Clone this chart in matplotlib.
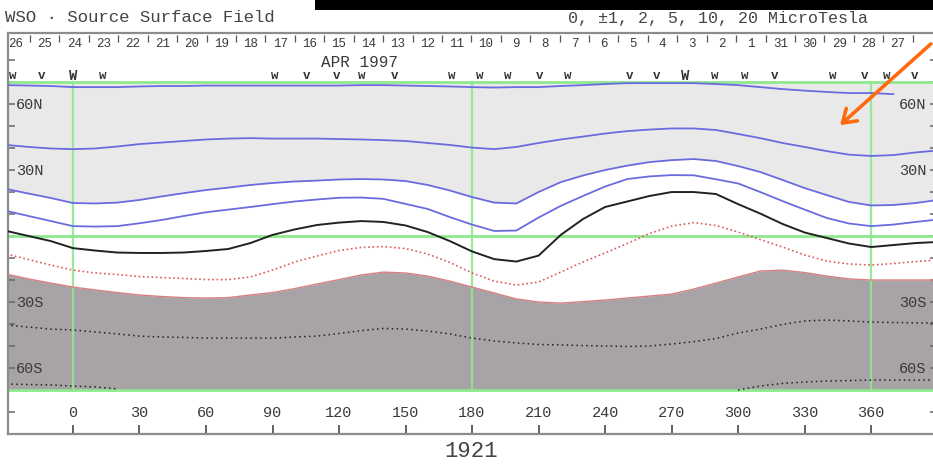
import numpy as np
import matplotlib
matplotlib.use("Agg")
import matplotlib.pyplot as plt
from matplotlib.patches import Rectangle, FancyArrowPatch

nan = np.nan

# ---------------- data ----------------
lon = list(range(-30, 391, 10))  # Carrington longitude samples

# positive-field contours (blue), from the north down
line_a = [68.6, 68.4, 68.2, 67.7, 67.7, 67.7, 68.0, 68.2, 68.2, 68.4, 68.4, 68.4, 68.4, 68.4,
          68.4, 68.4, 68.6, 68.6, 68.4, 68.2, 68.0, 67.7, 67.5, 67.7, 67.7, 68.2, 68.6, 69.1,
          69.5, 69.5, 69.5, 69.5, 69.1, 68.6, 67.7, 66.8, 66.1, 65.5, 65.0, 65.0, 64.5, nan, nan]
line_b = [41.4, 40.5, 39.8, 39.5, 39.8, 40.7, 41.8, 42.5, 43.2, 43.9, 44.3, 44.5, 44.3, 44.3,
          44.3, 44.1, 43.9, 43.6, 43.2, 42.3, 41.4, 40.2, 39.5, 40.5, 42.3, 43.9, 45.2, 46.6,
          47.7, 48.4, 48.9, 48.9, 48.2, 46.4, 44.5, 42.3, 40.5, 38.6, 37.0, 36.4, 36.8, 38.0, 38.9]
line_c = [21.4, 19.3, 17.3, 15.0, 14.8, 15.2, 16.4, 18.0, 19.5, 20.9, 22.0, 23.2, 24.1, 24.8,
          25.2, 25.7, 25.9, 25.7, 25.0, 23.2, 20.7, 17.7, 15.2, 14.8, 20.0, 24.5, 27.5, 30.0,
          32.0, 33.6, 34.5, 35.0, 34.1, 31.8, 29.1, 25.5, 21.8, 18.6, 15.5, 13.9, 14.1, 15.0, 16.4]
line_d = [11.4, 9.1, 6.8, 4.5, 4.3, 4.5, 5.8, 7.3, 9.1, 10.8, 12.0, 13.2, 14.5, 15.7,
          16.6, 17.4, 17.5, 16.9, 14.6, 12.3, 8.6, 5.2, 2.3, 2.5, 8.4, 13.7, 18.2, 22.5,
          25.9, 27.1, 27.7, 27.6, 25.8, 23.9, 20.0, 15.9, 12.0, 8.2, 5.7, 4.5, 5.2, 6.4, 7.5]
# neutral line (0 uT)
neutral = [2.3, 0.0, -2.3, -5.5, -6.6, -7.5, -7.7, -7.7, -7.5, -6.8, -5.9, -3.2, 0.5, 3.0,
           5.0, 6.1, 6.8, 6.4, 4.8, 1.8, -2.3, -7.0, -10.5, -11.6, -8.9, 0.5, 7.7, 13.2,
           15.7, 18.2, 20.0, 20.0, 19.1, 14.5, 10.2, 5.5, 1.6, -0.9, -3.4, -5.0, -4.1, -3.2, -2.7]
# negative-field contours
neg_1 = [-8.2, -10.7, -13.2, -15.5, -16.8, -17.5, -18.4, -18.9, -19.3, -19.8, -19.8, -18.6,
         -15.5, -11.8, -9.1, -6.6, -5.2, -4.8, -5.7, -8.2, -12.0, -16.8, -20.5, -22.3, -20.9,
         -16.4, -11.8, -7.7, -3.4, 1.1, 4.5, 6.1, 4.8, 1.8, -1.6, -5.0, -8.6, -11.4, -12.7,
         -13.2, -12.5, -11.6, -10.9]
neg_2 = [-17.3, -19.5, -21.4, -23.2, -24.5, -25.7, -26.8, -27.5, -28.0, -28.2, -28.0, -26.8,
         -25.7, -23.9, -21.8, -19.8, -17.7, -16.4, -16.8, -18.2, -20.5, -23.2, -25.9, -28.6,
         -30.0, -30.5, -29.8, -29.1, -28.2, -27.3, -26.4, -24.1, -21.4, -18.6, -15.9, -15.5,
         -16.6, -18.2, -19.5, -20.0, -20.0, -20.0, -20.0]
neg_3 = [-40.5, -41.4, -42.3, -42.7, -43.6, -44.5, -45.5, -45.9, -46.1, -46.4, -46.4, -46.4,
         -46.4, -45.9, -45.5, -44.3, -43.0, -42.0, -42.3, -43.2, -44.5, -46.4, -47.7, -48.6,
         -49.3, -49.5, -49.8, -50.0, -50.2, -50.0, -49.1, -48.0, -46.6, -44.1, -42.3, -40.2,
         -38.6, -38.2, -38.6, -39.1, -39.3, -39.5, -39.5]
neg_4 = [-67.3, -67.5, -67.7, -68.2, -68.6, -69.5, nan, nan, nan, nan, nan, nan, nan, nan,
         nan, nan, nan, nan, nan, nan, nan, nan, nan, nan, nan, nan, nan, nan, nan, nan, nan,
         nan, nan, -70.0, -68.2, -67.0, -66.4, -65.9, -65.7, -65.5, -65.5, -65.5, -65.5]

# top date row (days of Mar/Apr 1997, time runs right to left)
day_labels = ["26", "25", "24", "23", "22", "21", "20", "19", "18", "17", "16", "15", "14",
              "13", "12", "11", "10", "9", "8", "7", "6", "5", "4", "3", "2", "1", "31",
              "30", "29", "28", "27"]
day_first_lon = -26.0
day_step = 13.27

# observation markers
mark_lons = [-27.1, -14.0, 0.0, 13.5, 91.1, 105.5, 119.1, 130.4, 145.2, 171.0, 183.6, 196.2,
             210.6, 223.3, 251.2, 263.4, 276.1, 289.6, 303.1, 316.6, 342.8, 357.2, 367.2, 379.8]
mark_chars = ["w", "v", "W", "w", "w", "v", "v", "w", "v", "w", "w", "w",
              "v", "w", "v", "v", "W", "w", "w", "v", "w", "v", "w", "v"]

xticks = [0, 30, 60, 90, 120, 150, 180, 210, 240, 270, 300, 330, 360]
ytick_minor = [-80, -70, -60, -50, -40, -30, -20, -10, 0, 10, 20, 30, 40, 50, 60, 70, 80]
ylabels = {60: "60N", 30: "30N", -30: "30S", -60: "60S"}
rotation = "1921"

# ---------------- style ----------------
MONO = ["Liberation Mono", "DejaVu Sans Mono"]
BLUE = "#6b6be0"
RED = "#e05a5a"
GREEN = "#8ee88e"
LIGHT = "#e9e9e9"
DARK = "#a7a3a7"
TXT = "#3a3a3a"
AXC = "#8c8c8c"

W, H = 933, 469
fig = plt.figure(figsize=(W / 100, H / 100), dpi=100)
fig.patch.set_facecolor("white")
ax = fig.add_axes([8 / W, 1 - 434 / H, 929 / W, 401 / H])
ax.set_xlim(-29.3, 389.7)
ax.set_ylim(-90.0, 92.3)

lon_a = np.array(lon, dtype=float)
# fills
ax.fill_between(lon_a, line_c, 70, color=LIGHT, lw=0, zorder=1)
ax.fill_between(lon_a, -70, neg_2, color=DARK, lw=0, zorder=1)

# green frame lines
for yv in (70, 0, -70):
    ax.axhline(yv, color=GREEN, lw=2.0, zorder=2)
for xv in (0, 180, 360):
    ax.plot([xv, xv], [-70, 70], color=GREEN, lw=1.6, zorder=2, alpha=0.9)

# contours
for ln in (line_a, line_b, line_c, line_d):
    ax.plot(lon_a, ln, color=BLUE, lw=1.3, zorder=3)
ax.plot(lon_a, neutral, color="#222222", lw=1.4, zorder=3)
ax.plot(lon_a, neg_1, color=RED, lw=1.2, ls=(0, (1, 1.6)), zorder=3)
ax.plot(lon_a, neg_2, color="#d88080", lw=1.0, zorder=3)
ax.plot(lon_a, neg_3, color="#222222", lw=1.1, ls=(0, (1, 2.2)), zorder=3)
ax.plot(lon_a, neg_4, color="#222222", lw=1.1, ls=(0, (1, 2.2)), zorder=3)

# axes frame
for s in ax.spines.values():
    s.set_color(AXC)
    s.set_linewidth(1.6)
ax.set_xticks(xticks)
ax.tick_params(axis="x", direction="in", length=6.5, width=1.3, color="#555555",
               labelbottom=False, top=False)
ax.set_yticks(ytick_minor)
ax.tick_params(axis="y", direction="in", length=5, width=1.1, color="#666666",
               labelleft=False, right=True)

# x tick labels inside the frame
for xv in xticks:
    ax.text(xv, -80.5, str(xv), ha="center", va="center", fontsize=11, color=TXT,
            family=MONO, zorder=5)

# latitude labels inside both sides
for lat, lab in ylabels.items():
    ax.text(-25.8, lat - 0.6, lab, ha="left", va="center", fontsize=11, color=TXT,
            family=MONO, zorder=5)
    ax.text(385.0, lat - 0.6, lab, ha="right", va="center", fontsize=11, color=TXT,
            family=MONO, zorder=5)

# date row
for k, lab in enumerate(day_labels):
    ax.text(day_first_lon + k * day_step, 87.3, lab, ha="center", va="center",
            fontsize=9, color=TXT, family=MONO, zorder=5)
seps = [day_first_lon + (k - 0.5) * day_step for k in range(len(day_labels) + 1)]
ax.vlines(seps, 88.3, 91.5, color="#555555", lw=0.9, zorder=5)
ax.text(day_first_lon + 11.7 * day_step, 79.1, "APR 1997", ha="center", va="center",
        fontsize=11.5, color=TXT, family=MONO, zorder=5)

# observation markers
for ml, mc in zip(mark_lons, mark_chars):
    ax.text(ml, 72.6, mc, ha="center", va="center", fontsize=9 if mc != "W" else 10,
            fontweight="bold", color="#333333", family=MONO, zorder=5)

# titles
fig.text(5 / W, 1 - 17 / H, "WSO · Source Surface Field", ha="left", va="center",
         fontsize=12.5, color="#444444", family=MONO)
fig.text(568 / W, 1 - 18 / H, "0, ±1, 2, 5, 10, 20 MicroTesla", ha="left", va="center",
         fontsize=12, color="#444444", family=MONO)
fig.text(471 / W, 1 - 451 / H, rotation, ha="center", va="center", fontsize=16,
         color="#444444", family=MONO)

# black bar at top
fig.add_artist(Rectangle((315 / W, 1 - 10 / H), 1 - 315 / W, 10 / H,
                         transform=fig.transFigure, color="black", lw=0, zorder=10))

# orange arrow annotation
arr = FancyArrowPatch((1.0, 1 - 42 / H), (838 / W, 1 - 127 / H), transform=fig.transFigure,
                      arrowstyle="->,head_length=9,head_width=6", color="#ff6a10",
                      lw=2.6, mutation_scale=1, zorder=11)
fig.add_artist(arr)

fig.savefig("out.png", dpi=100, facecolor="white")
